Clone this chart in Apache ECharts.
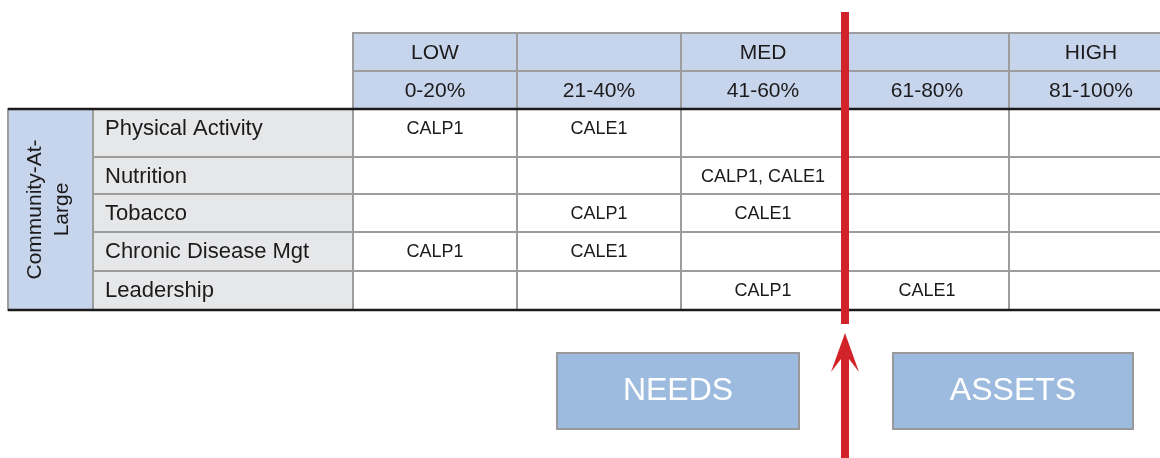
<!DOCTYPE html>
<html>
<head>
<meta charset="utf-8">
<script src="https://cdn.jsdelivr.net/npm/echarts@6/dist/echarts.min.js"></script>
<style>
html, body { margin: 0; padding: 0; background: #fff; }
#chart { width: 1160px; height: 458px; }
</style>
</head>
<body>
<div id="chart"></div>
<script>
// top header: level names and score bands
const levels = ['LOW', '', 'MED', '', 'HIGH'];
const bands = ['0-20%', '21-40%', '41-60%', '61-80%', '81-100%'];
const group = 'Community-At-\nLarge';
const areas = ['Physical Activity', 'Nutrition', 'Tobacco', 'Chronic Disease Mgt', 'Leadership'];
// band each community landed in, per area (row) and band (column)
const ratings = [
    ['CALP1', 'CALE1', '', '', ''],
    ['', '', 'CALP1, CALE1', '', ''],
    ['', 'CALP1', 'CALE1', '', ''],
    ['CALP1', 'CALE1', '', '', ''],
    ['', '', 'CALP1', 'CALE1', '']
];
const splitAt = 3; // first band on the assets side of the red line
const sides = ['NEEDS', 'ASSETS'];

// layout of the hidden axes (group col, label col, 5 bands / 2 header rows, 5 body rows)
const colWidths = [85, 260, 164, 164, 164, 164, 164];
const rowHeights = [38, 38, 48, 37, 38, 39, 39];
const colEdges = [0];
colWidths.forEach(w => colEdges.push(colEdges[colEdges.length - 1] + w));
const rowEdges = [0];
rowHeights.forEach(h => rowEdges.push(rowEdges[rowEdges.length - 1] + h));
const VIEW_W = 1152; // visible part of the table; the last column runs off the right edge

const FONT = '"Liberation Sans", Arial, sans-serif';
const INK = '#1d1a1b';
const styles = {
    head: { fill: '#c6d5eb', size: 21 },
    group: { fill: '#c6d5eb', size: 21 },
    label: { fill: '#e6e7e8', size: 22 },
    value: { fill: '#ffffff', size: 18 }
};

// build the cell list
const cells = [];
levels.forEach((t, i) => cells.push({ kind: 'head', c0: 2 + i, c1: 3 + i, r0: 0, r1: 1, text: t }));
bands.forEach((t, i) => cells.push({ kind: 'head', c0: 2 + i, c1: 3 + i, r0: 1, r1: 2, text: t }));
cells.push({ kind: 'group', c0: 0, c1: 1, r0: 2, r1: 2 + areas.length, text: group });
areas.forEach((t, r) => {
    cells.push({ kind: 'label', c0: 1, c1: 2, r0: 2 + r, r1: 3 + r, text: t });
    ratings[r].forEach((v, c) => cells.push({ kind: 'value', c0: 2 + c, c1: 3 + c, r0: 2 + r, r1: 3 + r, text: v }));
});

function renderCell(params, api) {
    const cell = cells[params.dataIndex];
    const p0 = api.coord([api.value(0), api.value(1)]);
    const p1 = api.coord([api.value(2), api.value(3)]);
    const x = p0[0], y = p0[1], w = p1[0] - p0[0], h = p1[1] - p0[1];
    const st = styles[cell.kind];
    const children = [{
        type: 'rect',
        shape: { x: x, y: y, width: w, height: h },
        style: { fill: st.fill, stroke: '#9d9d9d', lineWidth: 2 }
    }];
    if (cell.text) {
        let tx = x + w / 2, ty = y + 20, align = 'center', rotation = 0;
        if (cell.kind === 'head') ty = y + h / 2 + 1;
        if (cell.kind === 'label') { tx = x + 12; align = 'left'; }
        if (cell.kind === 'group') { tx = x + w / 2 - 2; ty = y + h / 2; rotation = Math.PI / 2; }
        children.push({
            type: 'text',
            x: tx, y: ty, rotation: rotation,
            style: {
                text: cell.text, fill: INK, align: align, verticalAlign: 'middle',
                font: st.size + 'px ' + FONT, lineHeight: 27
            }
        });
    }
    return { type: 'group', children: children };
}

// dark rules under the header and at the bottom of the table
function renderRule(params, api) {
    const a = api.coord([colEdges[0], api.value(0)]);
    const b = api.coord([colEdges[colEdges.length - 1], api.value(0)]);
    return {
        type: 'line',
        shape: { x1: a[0], y1: a[1], x2: b[0], y2: b[1] },
        style: { stroke: INK, lineWidth: 2.5 }
    };
}

// red needs/assets divider, arrow and the two captions
function renderDivider(params, api) {
    const top = api.coord([api.value(0), 0]);
    const bottom = api.coord([api.value(0), rowEdges[rowEdges.length - 1]]);
    const x = top[0], yb = bottom[1];
    const red = '#d2232a';
    const box = (x0, x1, text) => ({
        type: 'group',
        children: [
            { type: 'rect', shape: { x: x0, y: yb + 43, width: x1 - x0, height: 76 },
              style: { fill: '#9dbbdf', stroke: '#999999', lineWidth: 2 } },
            { type: 'text', x: (x0 + x1) / 2, y: yb + 81,
              style: { text: text, fill: '#ffffff', align: 'center', verticalAlign: 'middle',
                       font: '32px ' + FONT } }
        ]
    });
    return {
        type: 'group',
        children: [
            { type: 'rect', shape: { x: x - 4, y: top[1] - 21, width: 8, height: yb - top[1] + 35 },
              style: { fill: red } },
            { type: 'polygon',
              shape: { points: [[x, yb + 23], [x + 14, yb + 62], [x + 4, yb + 49], [x + 4, yb + 160],
                                [x - 4, yb + 160], [x - 4, yb + 49], [x - 14, yb + 62]] },
              style: { fill: red } },
            box(x - 288, x - 46, sides[0]),
            box(x + 48, x + 288, sides[1])
        ]
    };
}

const chart = echarts.init(document.getElementById('chart'));
chart.setOption({
    backgroundColor: '#ffffff',
    animation: false,
    grid: { left: 8, top: 33, width: VIEW_W, height: rowEdges[rowEdges.length - 1] },
    xAxis: { type: 'value', min: 0, max: VIEW_W, show: false },
    yAxis: { type: 'value', min: 0, max: rowEdges[rowEdges.length - 1], inverse: true, show: false },
    series: [
        {
            type: 'custom', z: 2, clip: false,
            data: cells.map(c => [colEdges[c.c0], rowEdges[c.r0], colEdges[c.c1], rowEdges[c.r1]]),
            renderItem: renderCell
        },
        {
            type: 'custom', z: 3, clip: false,
            data: [[rowEdges[2]], [rowEdges[rowEdges.length - 1]]],
            renderItem: renderRule
        },
        {
            type: 'custom', z: 4, clip: false,
            data: [[colEdges[2 + splitAt]]],
            renderItem: renderDivider
        }
    ]
});
</script>
</body>
</html>
